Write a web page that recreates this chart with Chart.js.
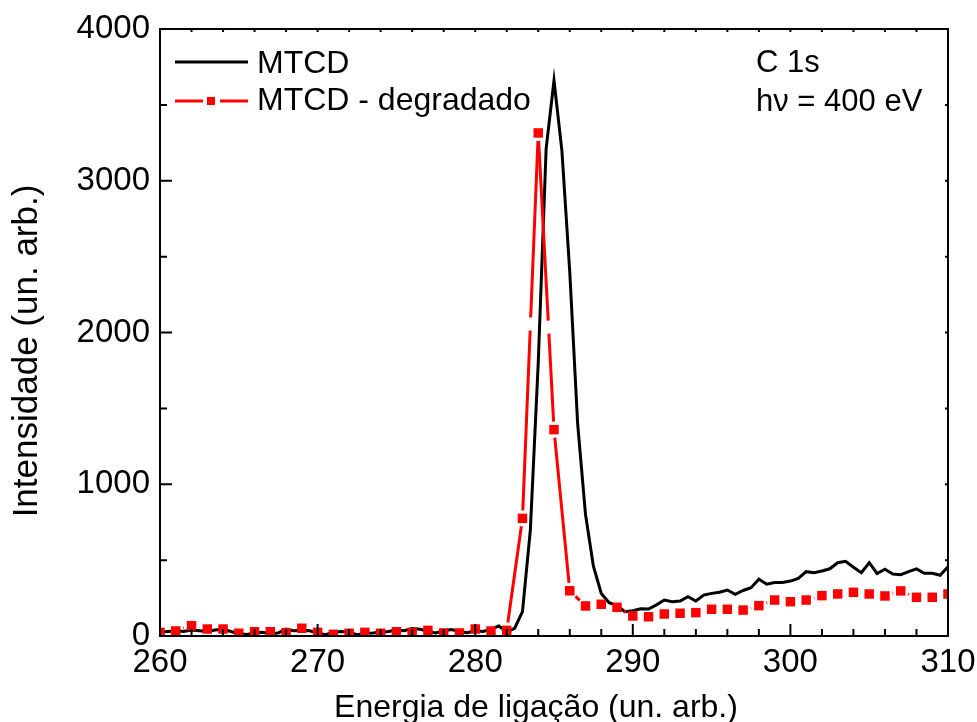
<!DOCTYPE html>
<html>
<head>
<meta charset="utf-8">
<script src="https://cdn.jsdelivr.net/npm/chart.js@4.4.1/dist/chart.umd.min.js"></script>
<style>
  html, body { margin: 0; padding: 0; background: #fff; }
  canvas { display: block; }
</style>
</head>
<body>
<canvas id="grafico" width="977" height="722"></canvas>
<script>
// energia (eV) das duas medidas
const energiaMTCD = [
  260, 260.5, 261, 261.5, 262, 262.5, 263, 263.5, 264, 264.5,
  265, 265.5, 266, 266.5, 267, 267.5, 268, 268.5, 269, 269.5,
  270, 270.5, 271, 271.5, 272, 272.5, 273, 273.5, 274, 274.5,
  275, 275.5, 276, 276.5, 277, 277.5, 278, 278.5, 279, 279.5,
  280, 280.5, 281, 281.5, 282, 282.5, 283, 283.5, 284, 284.5,
  285, 285.5, 286, 286.5, 287, 287.5, 288, 288.5, 289, 289.5,
  290, 290.5, 291, 291.5, 292, 292.5, 293, 293.5, 294, 294.5,
  295, 295.5, 296, 296.5, 297, 297.5, 298, 298.5, 299, 299.5,
  300, 300.5, 301, 301.5, 302, 302.5, 303, 303.5, 304, 304.5,
  305, 305.5, 306, 306.5, 307, 307.5, 308, 308.5, 309, 309.5,
  310
];
const intensidadeMTCD = [
  25, 30, 35, 30, 40, 35, 30, 40, 45, 30,
  15, 10, 20, 25, 15, 20, 45, 35, 38, 35,
  20, 8, 25, 30, 25, 8, 18, 20, 25, 30,
  40, 35, 50, 45, 30, 20, 35, 42, 30, 22,
  35, 30, 45, 66, 26, 50, 160, 700, 1800, 3210,
  3660, 3200, 2400, 1400, 800, 460, 280, 220, 200, 160,
  167, 180, 178, 205, 237, 226, 231, 259, 231, 270,
  281, 288, 303, 275, 300, 318, 374, 341, 352, 353,
  362, 380, 424, 417, 428, 443, 483, 492, 453, 417,
  483, 412, 440, 409, 404, 424, 442, 413, 413, 400,
  457
];

const energiaDegradado = [
  260, 261, 262, 263, 264, 265, 266, 267, 268, 269,
  270, 271, 272, 273, 274, 275, 276, 277, 278, 279,
  280, 281, 282, 283, 284, 285, 286, 287, 288, 289,
  290, 291, 292, 293, 294, 295, 296, 297, 298, 299,
  300, 301, 302, 303, 304, 305, 306, 307, 308, 309,
  310
];
const intensidadeDegradado = [
  24, 33, 68, 46, 46, 18, 28, 28, 22, 51,
  24, 11, 18, 24, 18, 28, 24, 37, 20, 20,
  46, 33, 37, 775, 3315, 1360, 298, 198, 209, 189,
  132, 127, 145, 150, 154, 176, 176, 171, 200, 237,
  226, 237, 266, 277, 288, 277, 264, 297, 255, 255,
  277
];

const ticksX = [260, 270, 280, 290, 300, 310];
const ticksY = [0, 1000, 2000, 3000, 4000];
const nomesSeries = ['MTCD', 'MTCD - degradado'];
const anotacoes = ['C 1s', 'h\u03bd = 400 eV'];
const tituloX = 'Energia de ligação (un. arb.)';
const tituloY = 'Intensidade (un. arb.)';

const FONTE = '"Liberation Sans", Arial, sans-serif';
const VERMELHO = '#ff0000';

// traço longo com folga em volta dos símbolos, como no Origin
const FOLGA = 8, TRACO = 180, ESPACO = 13;
function comprimento(ctx) {
  return Math.hypot(ctx.p1.x - ctx.p0.x, ctx.p1.y - ctx.p0.y);
}
function padraoTraco(ctx) {
  const L = comprimento(ctx);
  const util = L - 2 * FOLGA;
  if (util <= 0) return [0, L];
  const arr = [];
  let pos = 0;
  while (util - pos > TRACO + ESPACO) {
    arr.push(TRACO, ESPACO);
    pos += TRACO + ESPACO;
  }
  arr.push(util - pos, 2 * FOLGA);
  return arr;
}
function deslocTraco(ctx) {
  return comprimento(ctx) - FOLGA;
}

const moldura = {
  id: 'moldura',
  afterDraw(chart) {
    const c = chart.ctx;
    const a = chart.chartArea;
    const sx = chart.scales.x, sy = chart.scales.y;
    c.save();
    c.strokeStyle = '#000';
    c.lineWidth = 2;
    c.strokeRect(a.left, a.top, a.right - a.left, a.bottom - a.top);

    c.beginPath();
    for (let v = 260; v <= 310; v += 2) {
      const x = sx.getPixelForValue(v);
      const len = v % 10 === 0 ? 12 : 7;
      c.moveTo(x, a.bottom); c.lineTo(x, a.bottom - len);
      c.moveTo(x, a.top); c.lineTo(x, a.top + 3);
    }
    for (let v = 0; v <= 4000; v += 500) {
      const y = sy.getPixelForValue(v);
      const len = v % 1000 === 0 ? 12 : 7;
      c.moveTo(a.left, y); c.lineTo(a.left + len, y);
      c.moveTo(a.right, y); c.lineTo(a.right - 3, y);
    }
    c.stroke();

    // legenda
    c.lineWidth = 3;
    c.beginPath();
    c.moveTo(175, 62); c.lineTo(248, 62);
    c.stroke();
    c.strokeStyle = VERMELHO;
    c.beginPath();
    c.moveTo(175, 101); c.lineTo(203, 101);
    c.moveTo(220, 101); c.lineTo(248, 101);
    c.stroke();
    c.fillStyle = VERMELHO;
    c.fillRect(207, 97, 8, 8);

    c.fillStyle = '#000';
    c.textAlign = 'left';
    c.textBaseline = 'alphabetic';
    c.font = '32px ' + FONTE;
    c.fillText(nomesSeries[0], 257, 73);
    c.fillText(nomesSeries[1], 257, 110);
    c.font = '31px ' + FONTE;
    c.fillText(anotacoes[0], 756, 72);
    c.fillText(anotacoes[1], 756, 111);

    // títulos dos eixos
    c.textAlign = 'center';
    c.textBaseline = 'middle';
    c.font = '32px ' + FONTE;
    c.fillText(tituloX, 536, 708);
    c.font = '35px ' + FONTE;
    c.translate(27, 351);
    c.rotate(-Math.PI / 2);
    c.fillText(tituloY, 0, 0);
    c.restore();
  }
};

new Chart(document.getElementById('grafico'), {
  type: 'line',
  data: {
    datasets: [{
      label: nomesSeries[0],
      data: energiaMTCD.map((e, i) => ({ x: e, y: intensidadeMTCD[i] })),
      borderColor: '#000',
      borderWidth: 3,
      pointRadius: 0,
      tension: 0,
      order: 1
    },
    {
      label: nomesSeries[1],
      data: energiaDegradado.map((e, i) => ({ x: e, y: intensidadeDegradado[i] })),
      borderColor: VERMELHO,
      backgroundColor: VERMELHO,
      borderWidth: 3,
      pointStyle: 'rect',
      pointRadius: 6.7,
      pointBorderWidth: 0,
      pointBackgroundColor: VERMELHO,
      tension: 0,
      order: 0,
      segment: {
        borderDash: padraoTraco,
        borderDashOffset: deslocTraco
      }
    }]
  },
  options: {
    responsive: false,
    animation: false,
    events: [],
    layout: { padding: { top: 29, right: 29, left: 0, bottom: 0 } },
    plugins: {
      legend: { display: false },
      tooltip: { enabled: false }
    },
    scales: {
      x: {
        type: 'linear',
        min: 260,
        max: 310,
        afterFit: s => { s.height = 86; s.paddingLeft = 0; s.paddingRight = 0; },
        afterBuildTicks: s => { s.ticks = ticksX.map(v => ({ value: v })); },
        grid: { display: false, drawTicks: false },
        border: { display: false },
        ticks: {
          color: '#000',
          padding: 7,
          maxRotation: 0,
          callback: v => String(v),
          font: { family: FONTE, size: 33 }
        }
      },
      y: {
        type: 'linear',
        min: 0,
        max: 4000,
        afterFit: s => { s.width = 160; s.paddingTop = 0; s.paddingBottom = 0; },
        afterBuildTicks: s => { s.ticks = ticksY.map(v => ({ value: v })); },
        grid: { display: false, drawTicks: false },
        border: { display: false },
        ticks: {
          color: '#000',
          padding: 10,
          callback: v => String(v),
          font: { family: FONTE, size: 33 }
        }
      }
    }
  },
  plugins: [moldura]
});
</script>
</body>
</html>
